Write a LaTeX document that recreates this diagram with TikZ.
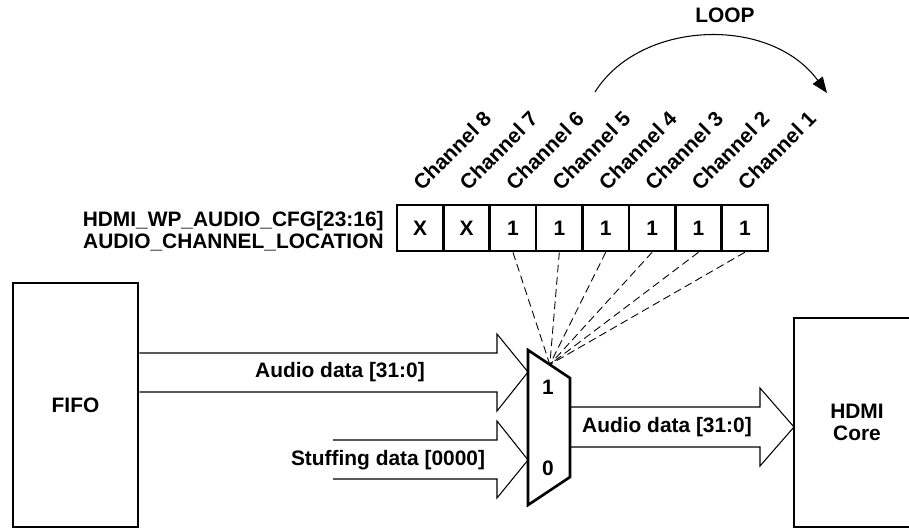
\documentclass[tikz,border=0pt]{standalone}
\usepackage{fontspec}
\setmainfont{Liberation Sans}
\usetikzlibrary{arrows.meta,calc}

\begin{document}
\begin{tikzpicture}[
		x=0.02cm, y=-0.02cm,
		every node/.style = {font=\fontsize{11.9}{12.5}\selectfont\bfseries},
		blk/.style = {rectangle, draw=black, line width=1.5pt, inner sep=0},
		cell/.style = {rectangle, draw=black, line width=1.5pt, minimum width=0.9275cm, minimum height=0.92cm, inner sep=0},
		bus/.style = {draw=black, line width=0.6pt},
		sel/.style = {dash pattern=on 4.5pt off 2.5pt, line width=0.5pt},
		r/.style = {-{Triangle[length=9pt,width=7pt]}, line width=0.6pt}
		]

		\clip (0,0) rectangle (909,529);

		%Blocks
		\node[blk, minimum width=2.5cm, minimum height=4.88cm]	(fifo)	at	(75.5,405)	{FIFO};
		\node[blk, minimum width=2.52cm, minimum height=4.18cm, align=center]	(core)	at	(857,422.5)	{HDMI\\Core};

		%Mux
		\coordinate (mtl) at (528,350);
		\coordinate (mtr) at (570,378);
		\coordinate (mbr) at (570,477);
		\coordinate (mbl) at (528,505);
		\draw[line width=1.5pt] (mtl) -- (mtr) -- (mbr) -- (mbl) -- cycle;
		\coordinate (sel) at ($(mtl)!0.52!(mtr)$);
		\node	(in1)	at	(548,387)	{1};
		\node	(in0)	at	(548,468)	{0};

		%Register
		\node[anchor=east, align=right, inner sep=0]	(reg)	at	(384,231)	{HDMI\_WP\_AUDIO\_CFG[23:16]\\AUDIO\_CHANNEL\_LOCATION};
		\foreach \v [count=\i] in {X,X,1,1,1,1,1,1} {
			\pgfmathtruncatemacro\ch{9-\i}
			\node[cell]	(c\ch)	at	(397+46.375*\i-23.19,228)	{\v};
			\node[rotate=45, anchor=south west, inner sep=0]	(l\ch)	at	($(c\ch.north)+(2,-12)$)	{Channel \ch};
		}

		%Selects
		\foreach \ch in {1,...,6}
			\draw[sel]	(c\ch.south)	--	(sel);

		%Loop
		\coordinate (ls) at (595,92);
		\coordinate (le) at (827,93);
		\draw[r]	(ls)	..	controls (640,20) and (770,15)	..	(le);
		\node	(loop)	at	(725,15)	{LOOP};

		%Buses
		\coordinate (t1) at (528,372);
		\coordinate (t0) at (528,460);
		\coordinate (t2) at (794,427);
		\draw[bus]	($(fifo.east |- t1)+(0,-19)$) -- (497,353) -- (497,334) -- (t1) -- (497,411) -- (497,392) -- ($(fifo.east |- t1)+(0,20)$);
		\node	(ain)	at	(340,372)	{Audio data [31:0]};
		\draw[bus]	(333,440) -- (497,440) -- (497,421) -- (t0) -- (497,498) -- (497,479) -- (333,479);
		\node	(sin)	at	(388,460)	{Stuffing data [0000]};
		\draw[bus]	($(mtr |- t2)+(0,-20)$) -- (760,407) -- (760,388) -- (t2) -- (760,466) -- (760,447) -- ($(mtr |- t2)+(0,20)$);
		\node	(aout)	at	(667,427)	{Audio data [31:0]};
	\end{tikzpicture}
\end{document}
